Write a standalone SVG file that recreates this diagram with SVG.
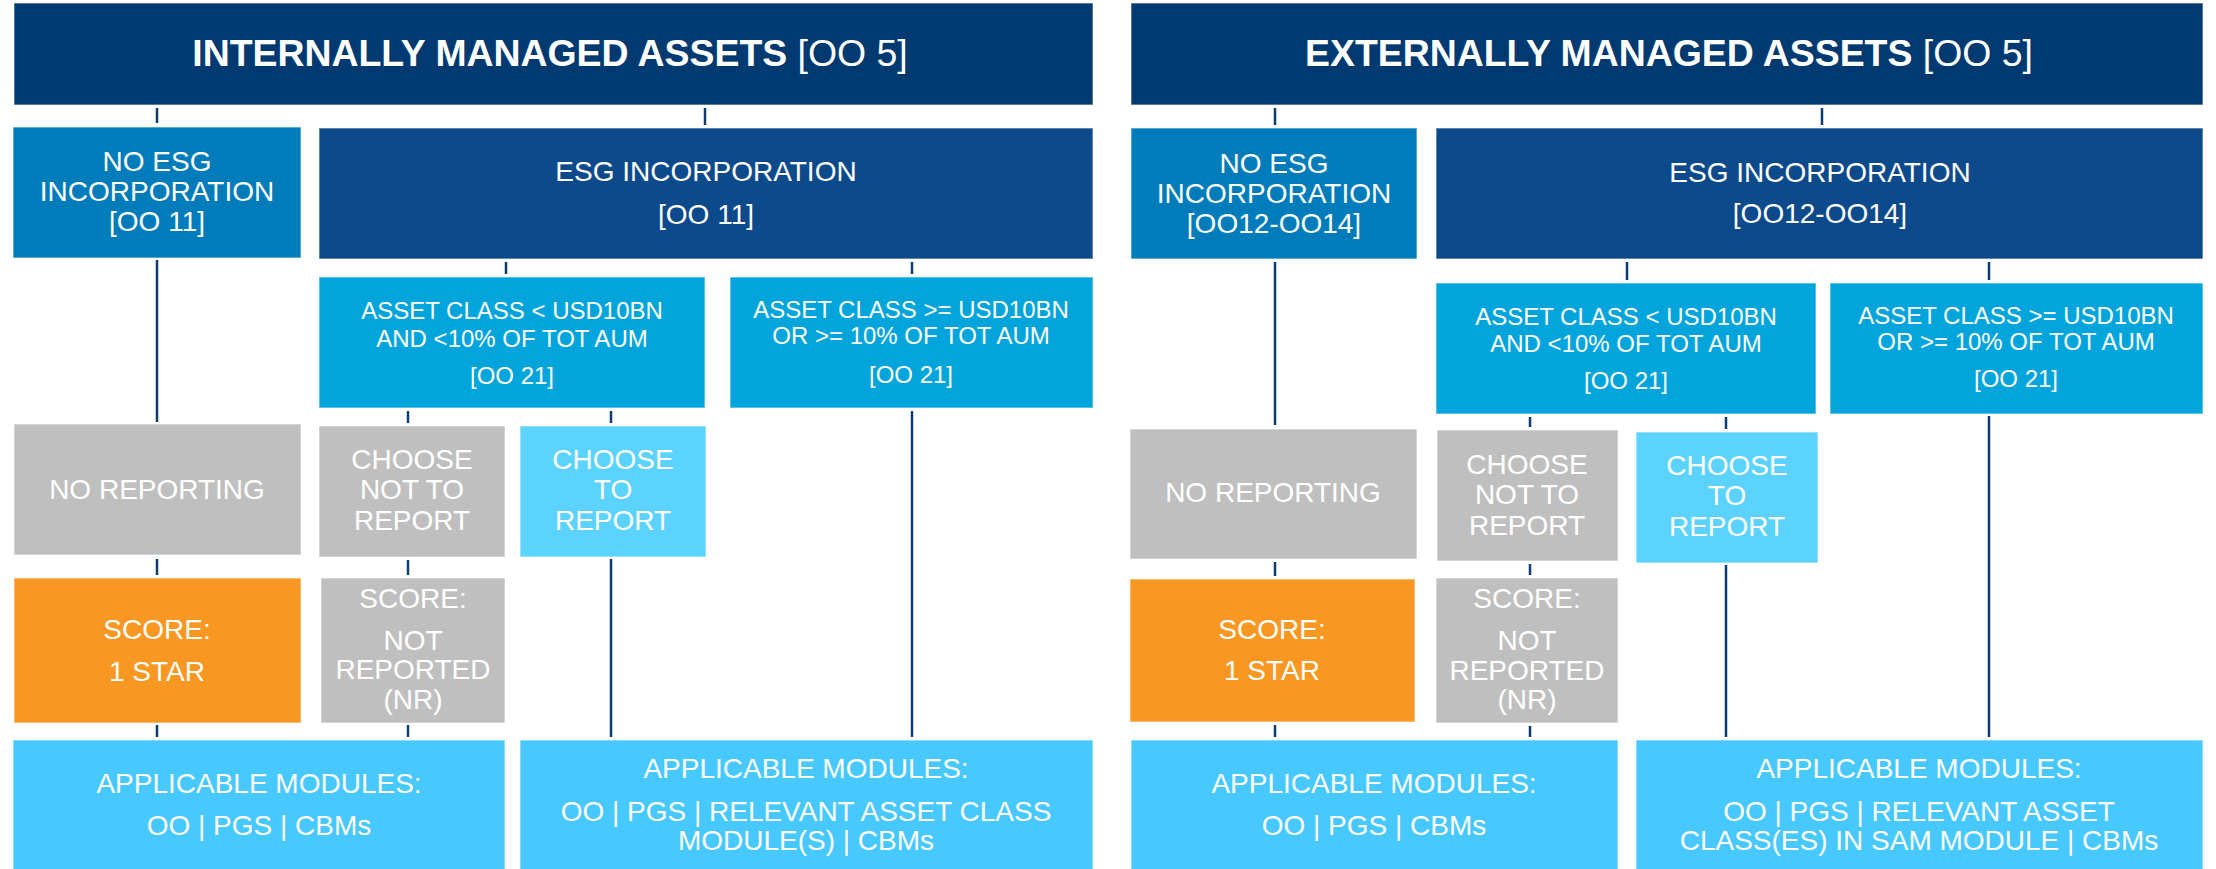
<svg xmlns="http://www.w3.org/2000/svg" width="2216" height="869" viewBox="0 0 2216 869">
<style>
  text { font-family: "Liberation Sans", Arial, sans-serif; fill: #ffffff; text-anchor: middle; }
  .box { stroke: #ffffff; stroke-opacity: 0.45; stroke-width: 1.5; }
  .title { fill: #003A70; }
  .esg { fill: #0D4A8C; }
  .noesg { fill: #007CBA; }
  .ac { fill: #02A4DC; }
  .gray { fill: #BFBFBF; }
  .to { fill: #5CD3FF; }
  .mod { fill: #47C8FF; }
  .orange { fill: #F89721; }
  .t38 { font-size: 37.4px; }
  .t28 { font-size: 28px; }
  .t24 { font-size: 24px; }
  .conn line { stroke: #0B3D73; stroke-width: 2.5; }
</style>
<rect width="2216" height="869" fill="#ffffff"/>

<g class="conn" id="connectors">
  <line x1="157" y1="108" x2="157" y2="123"/>
  <line x1="705" y1="108" x2="705" y2="125"/>
  <line x1="157" y1="260" x2="157" y2="422"/>
  <line x1="506" y1="262" x2="506" y2="274"/>
  <line x1="912" y1="262" x2="912" y2="274"/>
  <line x1="408" y1="411" x2="408" y2="423"/>
  <line x1="611" y1="411" x2="611" y2="423"/>
  <line x1="912" y1="411" x2="912" y2="737"/>
  <line x1="157" y1="559" x2="157" y2="575"/>
  <line x1="408" y1="560" x2="408" y2="575"/>
  <line x1="611" y1="559" x2="611" y2="737"/>
  <line x1="157" y1="725" x2="157" y2="737"/>
  <line x1="408" y1="725" x2="408" y2="737"/>

  <line x1="1275" y1="108" x2="1275" y2="125"/>
  <line x1="1822" y1="108" x2="1822" y2="125"/>
  <line x1="1275" y1="262" x2="1275" y2="425"/>
  <line x1="1627" y1="262" x2="1627" y2="280"/>
  <line x1="1989" y1="262" x2="1989" y2="280"/>
  <line x1="1530" y1="417" x2="1530" y2="427"/>
  <line x1="1726" y1="417" x2="1726" y2="429"/>
  <line x1="1989" y1="416" x2="1989" y2="737"/>
  <line x1="1275" y1="562" x2="1275" y2="576"/>
  <line x1="1530" y1="564" x2="1530" y2="575"/>
  <line x1="1726" y1="565" x2="1726" y2="737"/>
  <line x1="1275" y1="725" x2="1275" y2="737"/>
  <line x1="1530" y1="726" x2="1530" y2="737"/>
</g>

<!-- LEFT PANEL -->
<g id="int-title">
  <rect class="box title" x="14" y="3" width="1079" height="102"/>
  <text class="t38" x="550" y="66"><tspan font-weight="bold">INTERNALLY MANAGED ASSETS</tspan> [OO 5]</text>
</g>
<g id="int-noesg">
  <rect class="box noesg" x="13" y="127" width="288" height="131"/>
  <text class="t28" x="157" y="171">NO ESG</text>
  <text class="t28" x="157" y="201">INCORPORATION</text>
  <text class="t28" x="157" y="231">[OO 11]</text>
</g>
<g id="int-esg">
  <rect class="box esg" x="319" y="128" width="774" height="131"/>
  <text class="t28" x="706" y="181">ESG INCORPORATION</text>
  <text class="t28" x="706" y="224">[OO 11]</text>
</g>
<g id="int-ac-small">
  <rect class="box ac" x="319" y="277" width="386" height="131"/>
  <text class="t24" x="512" y="319">ASSET CLASS &lt; USD10BN</text>
  <text class="t24" x="512" y="347">AND &lt;10% OF TOT AUM</text>
  <text class="t24" x="512" y="384">[OO 21]</text>
</g>
<g id="int-ac-large">
  <rect class="box ac" x="730" y="277" width="363" height="131"/>
  <text class="t24" x="911" y="318">ASSET CLASS &gt;= USD10BN</text>
  <text class="t24" x="911" y="344">OR &gt;= 10% OF TOT AUM</text>
  <text class="t24" x="911" y="383">[OO 21]</text>
</g>
<g id="int-noreport">
  <rect class="box gray" x="14" y="424" width="287" height="131"/>
  <text class="t28" x="157" y="499">NO REPORTING</text>
</g>
<g id="int-choosenot">
  <rect class="box gray" x="319" y="426" width="186" height="131"/>
  <text class="t28" x="412" y="469">CHOOSE</text>
  <text class="t28" x="412" y="499">NOT TO</text>
  <text class="t28" x="412" y="530">REPORT</text>
</g>
<g id="int-chooseto">
  <rect class="box to" x="520" y="426" width="186" height="131"/>
  <text class="t28" x="613" y="469">CHOOSE</text>
  <text class="t28" x="613" y="499">TO</text>
  <text class="t28" x="613" y="530">REPORT</text>
</g>
<g id="int-score1">
  <rect class="box orange" x="14" y="578" width="287" height="145"/>
  <text class="t28" x="157" y="639">SCORE:</text>
  <text class="t28" x="157" y="681">1 STAR</text>
</g>
<g id="int-scorenr">
  <rect class="box gray" x="321" y="578" width="184" height="145"/>
  <text class="t28" x="413" y="608">SCORE:</text>
  <text class="t28" x="413" y="650">NOT</text>
  <text class="t28" x="413" y="679">REPORTED</text>
  <text class="t28" x="413" y="709">(NR)</text>
</g>
<g id="int-mod1">
  <rect class="box mod" x="13" y="740" width="492" height="135"/>
  <text class="t28" x="259" y="793">APPLICABLE MODULES:</text>
  <text class="t28" x="259" y="835">OO | PGS | CBMs</text>
</g>
<g id="int-mod2">
  <rect class="box mod" x="520" y="740" width="573" height="135"/>
  <text class="t28" x="806" y="778">APPLICABLE MODULES:</text>
  <text class="t28" x="806" y="821">OO | PGS | RELEVANT ASSET CLASS</text>
  <text class="t28" x="806" y="850">MODULE(S) | CBMs</text>
</g>

<!-- RIGHT PANEL -->
<g id="ext-title">
  <rect class="box title" x="1131" y="3" width="1072" height="102"/>
  <text class="t38" x="1669" y="66"><tspan font-weight="bold">EXTERNALLY MANAGED ASSETS</tspan> [OO 5]</text>
</g>
<g id="ext-noesg">
  <rect class="box noesg" x="1131" y="128" width="286" height="131"/>
  <text class="t28" x="1274" y="173">NO ESG</text>
  <text class="t28" x="1274" y="203">INCORPORATION</text>
  <text class="t28" x="1274" y="233">[OO12-OO14]</text>
</g>
<g id="ext-esg">
  <rect class="box esg" x="1436" y="128" width="767" height="131"/>
  <text class="t28" x="1820" y="182">ESG INCORPORATION</text>
  <text class="t28" x="1820" y="223">[OO12-OO14]</text>
</g>
<g id="ext-ac-small">
  <rect class="box ac" x="1436" y="283" width="380" height="131"/>
  <text class="t24" x="1626" y="325">ASSET CLASS &lt; USD10BN</text>
  <text class="t24" x="1626" y="352">AND &lt;10% OF TOT AUM</text>
  <text class="t24" x="1626" y="389">[OO 21]</text>
</g>
<g id="ext-ac-large">
  <rect class="box ac" x="1830" y="283" width="373" height="131"/>
  <text class="t24" x="2016" y="324">ASSET CLASS &gt;= USD10BN</text>
  <text class="t24" x="2016" y="350">OR &gt;= 10% OF TOT AUM</text>
  <text class="t24" x="2016" y="387">[OO 21]</text>
</g>
<g id="ext-noreport">
  <rect class="box gray" x="1130" y="429" width="287" height="130"/>
  <text class="t28" x="1273" y="502">NO REPORTING</text>
</g>
<g id="ext-choosenot">
  <rect class="box gray" x="1437" y="430" width="181" height="131"/>
  <text class="t28" x="1527" y="474">CHOOSE</text>
  <text class="t28" x="1527" y="504">NOT TO</text>
  <text class="t28" x="1527" y="535">REPORT</text>
</g>
<g id="ext-chooseto">
  <rect class="box to" x="1636" y="432" width="182" height="131"/>
  <text class="t28" x="1727" y="475">CHOOSE</text>
  <text class="t28" x="1727" y="505">TO</text>
  <text class="t28" x="1727" y="536">REPORT</text>
</g>
<g id="ext-score1">
  <rect class="box orange" x="1130" y="579" width="285" height="143"/>
  <text class="t28" x="1272" y="639">SCORE:</text>
  <text class="t28" x="1272" y="680">1 STAR</text>
</g>
<g id="ext-scorenr">
  <rect class="box gray" x="1436" y="578" width="182" height="145"/>
  <text class="t28" x="1527" y="608">SCORE:</text>
  <text class="t28" x="1527" y="650">NOT</text>
  <text class="t28" x="1527" y="680">REPORTED</text>
  <text class="t28" x="1527" y="709">(NR)</text>
</g>
<g id="ext-mod1">
  <rect class="box mod" x="1131" y="740" width="487" height="135"/>
  <text class="t28" x="1374" y="793">APPLICABLE MODULES:</text>
  <text class="t28" x="1374" y="835">OO | PGS | CBMs</text>
</g>
<g id="ext-mod2">
  <rect class="box mod" x="1636" y="740" width="567" height="135"/>
  <text class="t28" x="1919" y="778">APPLICABLE MODULES:</text>
  <text class="t28" x="1919" y="821">OO | PGS | RELEVANT ASSET</text>
  <text class="t28" x="1919" y="850">CLASS(ES) IN SAM MODULE | CBMs</text>
</g>
</svg>
